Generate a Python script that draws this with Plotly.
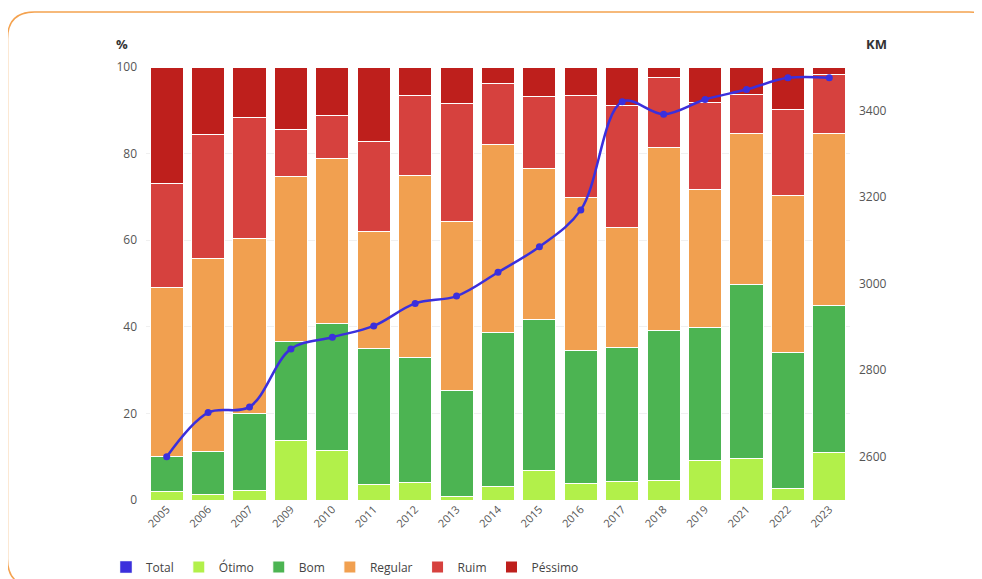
import plotly.graph_objects as go

anos = ["2005", "2006", "2007", "2009", "2010", "2011", "2012", "2013", "2014",
        "2015", "2016", "2017", "2018", "2019", "2021", "2022", "2023"]

# percentuais por condição (%)
otimo = [1.9, 1.3, 2.3, 13.7, 11.5, 3.6, 4.1, 0.8, 3.1, 6.9, 3.8, 4.2, 4.6, 9.1, 9.6, 2.7, 10.9]
bom = [8.1, 9.9, 17.7, 22.9, 29.3, 31.3, 28.8, 24.4, 35.6, 34.7, 30.8, 31.0, 34.5, 30.7, 40.1, 31.4, 34.0]
regular = [39.0, 44.6, 40.3, 38.2, 38.0, 27.1, 42.0, 39.2, 43.3, 35.0, 35.3, 27.8, 42.3, 31.8, 35.0, 36.3, 39.8]
ruim = [24.1, 28.7, 28.0, 10.8, 10.1, 20.9, 18.5, 27.2, 14.2, 16.5, 23.5, 28.0, 16.1, 20.1, 8.9, 19.9, 13.6]
pessimo = [26.9, 15.5, 11.7, 14.4, 11.1, 17.1, 6.6, 8.4, 3.8, 6.9, 6.6, 9.0, 2.5, 8.3, 6.4, 9.7, 1.7]

# extensão total avaliada (KM)
total_km = [2600, 2702, 2715, 2849, 2876, 2902, 2954, 2971, 3026,
            3085, 3170, 3420, 3391, 3425, 3448, 3475, 3475]

series = [
    ("Ótimo", otimo, "#b2f04a"),
    ("Bom", bom, "#4cb452"),
    ("Regular", regular, "#f1a050"),
    ("Ruim", ruim, "#d6413e"),
    ("Péssimo", pessimo, "#be1f1c"),
]

# the page body adds an 8px offset, so margins are the target minus 8
W, H = 982, 579
OFF = 8
ML, MR, MT, MB = 146 - OFF, 982 - 850 + OFF, 67 - OFF, 579 - 500 + OFF
PW, PH = W - ML - MR, H - MT - MB


def px(x):
    # pixel in the final picture -> paper x
    return (x - OFF - ML) / PW


def py(y):
    return (H - MB - (y - OFF)) / PH


fig = go.Figure()

# square legend entry for the line (no visible bars)
fig.add_trace(go.Bar(x=anos, y=[None] * len(anos), name="Total",
                     marker_color="#3b2fdc", hoverinfo="skip"))

for name, vals, color in series:
    fig.add_trace(go.Bar(
        x=anos, y=vals, name=name, marker_color=color,
        marker_line=dict(color="white", width=1),
    ))

fig.add_trace(go.Scatter(
    x=anos, y=total_km, yaxis="y2", mode="lines+markers", name="Total",
    showlegend=False, line=dict(color="#3b2fdc", width=2.5, shape="spline"),
    marker=dict(size=7, color="#3b2fdc"),
))

# rounded orange frame
x0, x1, y0, y1, r = 7.5, 996, 12, 586, 27
path = (f"M {px(x0)},{py(y1 - r)} L {px(x0)},{py(y0 + r)} "
        f"Q {px(x0)},{py(y0)} {px(x0 + r)},{py(y0)} "
        f"L {px(x1 - r)},{py(y0)} Q {px(x1)},{py(y0)} {px(x1)},{py(y0 + r)} "
        f"L {px(x1)},{py(y1 - r)} Q {px(x1)},{py(y1)} {px(x1 - r)},{py(y1)} "
        f"L {px(x0 + r)},{py(y1)} Q {px(x0)},{py(y1)} {px(x0)},{py(y1 - r)}")
fig.add_shape(type="path", path=path, xref="paper", yref="paper",
              line=dict(color="#f4a24f", width=1.5), layer="below")

fig.add_annotation(text="<b>%</b>", x=px(122), y=py(44), xref="paper", yref="paper",
                   xanchor="center", yanchor="middle",
                   showarrow=False, font=dict(size=13, color="#333"))
fig.add_annotation(text="<b>KM</b>", x=px(876), y=py(44), xref="paper", yref="paper",
                   xanchor="center", yanchor="middle",
                   showarrow=False, font=dict(size=13, color="#333"))

fig.update_layout(
    width=W, height=H,
    margin=dict(l=ML, r=MR, t=MT, b=MB, autoexpand=False),
    barmode="stack", bargap=0.2,
    plot_bgcolor="white", paper_bgcolor="white",
    font=dict(family="Open Sans", size=12, color="#555"),
    xaxis=dict(type="category", range=[-0.5, len(anos) - 0.5], tickangle=-45,
               showgrid=False, ticks="", tickfont=dict(size=11, color="#555"),
               showline=False, automargin=False),
    yaxis=dict(range=[0, 100], dtick=20, showgrid=True, gridcolor="#f0f0f0",
               zeroline=False, ticks="", ticklabelstandoff=8, automargin=False),
    yaxis2=dict(range=[2500, 3500], tick0=2600, dtick=200, overlaying="y",
                side="right", showgrid=False, zeroline=False, ticklabelstandoff=8,
                automargin=False),
    legend=dict(orientation="h", x=px(106), y=py(567), xanchor="left", yanchor="middle",
                traceorder="normal", font=dict(size=12, color="#444")),
)

fig.write_html("out.html")
